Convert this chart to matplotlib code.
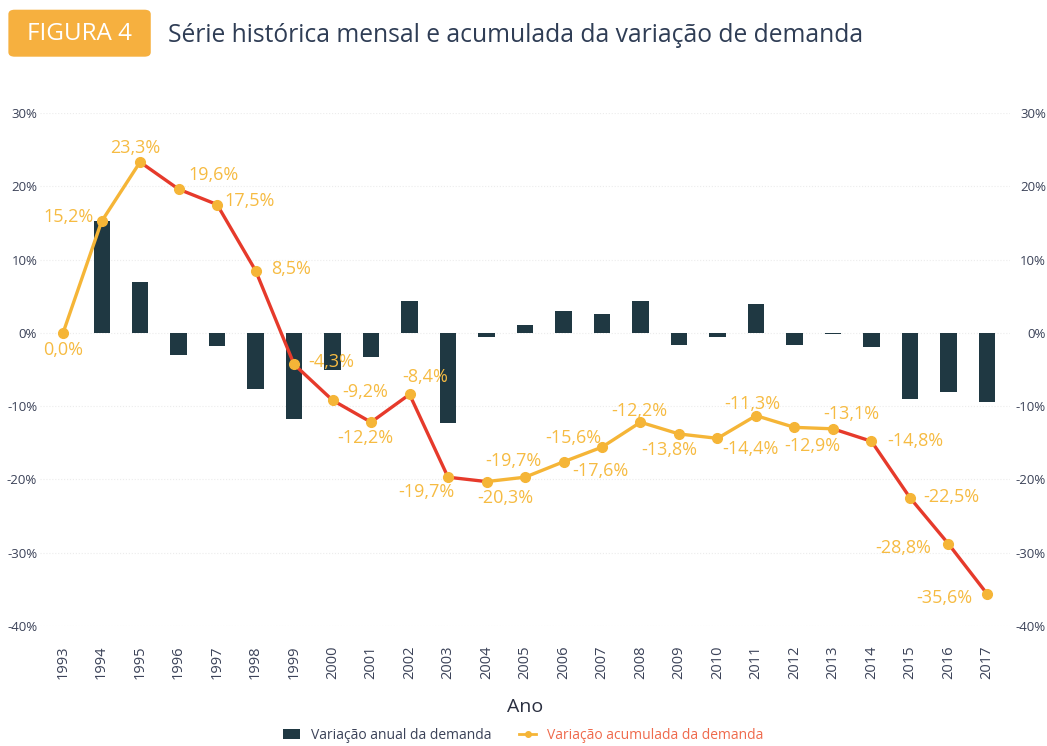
import matplotlib.pyplot as plt
from matplotlib.patches import FancyBboxPatch, Patch
from matplotlib.lines import Line2D
from matplotlib.transforms import ScaledTranslation

plt.rcParams['font.family'] = ['Open Sans', 'DejaVu Sans']

# data
years = list(range(1993, 2018))
annual = [0.0, 15.2, 7.0, -3.0, -1.8, -7.7, -11.8, -5.1, -3.3, 4.3, -12.3, -0.6,
          1.0, 3.0, 2.5, 4.4, -1.7, -0.6, 3.9, -1.6, -0.2, -1.9, -9.0, -8.1, -9.5]
cumulative = [0.0, 15.2, 23.3, 19.6, 17.5, 8.5, -4.3, -9.2, -12.2, -8.4, -19.7, -20.3,
              -19.7, -17.6, -15.6, -12.2, -13.8, -14.4, -11.3, -12.9, -13.1, -14.8,
              -22.5, -28.8, -35.6]
# label texts as printed on the chart
point_labels = ['0,0%', '15,2%', '23,3%', '19,6%', '17,5%', '8,5%', '-4,3%', '-9,2%',
                '-12,2%', '-8,4%', '-19,7%', '-20,3%', '-19,7%', '-15,6%', '-17,6%',
                '-12,2%', '-13,8%', '-14,4%', '-11,3%', '-12,9%', '-13,1%', '-14,8%',
                '-22,5%', '-28,8%', '-35,6%']
# segments drawn in red (start year of the segment)
red_segments = [1995, 1996, 1997, 1998, 1999, 2000, 2001, 2002, 2003,
                2013, 2014, 2015, 2016]
# label offsets in pixels (dx, dy) relative to each point
label_offsets = [(0, -17), (-33, 4), (-5, 14), (35, 14), (33, 4), (36, 2), (37, 2),
                 (33, 8), (-6, -16), (16, 17), (-22, -15), (19, -16), (-12, 16),
                 (10, 24), (-2, -24), (-1, 11), (-10, -16), (33, -11), (-4, 12),
                 (18, -19), (18, 15), (44, 0), (41, 1), (-45, -4), (-43, -4)]

BAR = '#1f3842'
YEL = '#f5b537'
RED = '#e63a2b'
TXT = '#3b4258'

fig = plt.figure(figsize=(10.47, 7.46), dpi=100)
ax = fig.add_axes([0.0382, 0.1609, 0.9265, 0.6877])

ax.bar(years[1:], annual[1:], width=0.42, color=BAR, zorder=2)

for i in range(len(years) - 1):
    c = RED if years[i] in red_segments else YEL
    ax.plot(years[i:i + 2], cumulative[i:i + 2], color=c, lw=2.4, zorder=3,
            solid_capstyle='round')
ax.plot(years, cumulative, 'o', color=YEL, ms=7, zorder=4)

for x, y, t, (dx, dy) in zip(years, cumulative, point_labels, label_offsets):
    ax.annotate(t, (x, y), xytext=(dx * 0.72, dy * 0.72), textcoords='offset points',
                ha='center', va='center', color='#f6bb42', fontsize=13, zorder=5)

ax.set_xlim(1992.4, 2017.6)
ax.set_ylim(-40, 30)
ax.set_yticks(range(-40, 31, 10))
ax.set_yticklabels([f'{v}%' for v in range(-40, 31, 10)])
ax.set_xticks(years)
ax.set_xticklabels([str(y) for y in years], rotation=90)
ax.tick_params(axis='both', length=0, colors=TXT)
ax.tick_params(axis='x', pad=14, labelsize=10.5)
ax.tick_params(axis='y', labelsize=9.5, labelright=True, pad=2)
for s in ax.spines.values():
    s.set_visible(False)
ax.yaxis.grid(True, color='#ececec', ls=':', lw=0.8, zorder=0)
ax.set_axisbelow(True)
ax.set_xlabel('Ano', fontsize=14, color='#2a2f40', labelpad=14)

# right-hand labels are right-aligned near the figure edge
for t in ax.yaxis.get_major_ticks():
    t.label2.set_ha('right')
    t.label2.set_transform(t.label2.get_transform()
                           + ScaledTranslation(33 / 100, 0, fig.dpi_scale_trans))

# title block
box = FancyBboxPatch((0.008, 0.924), 0.136, 0.063, boxstyle='round,pad=0,rounding_size=0.006',
                     transform=fig.transFigure, facecolor='#f6b03f', edgecolor='none')
fig.patches.append(box)
fig.text(0.0755, 0.955, 'FIGURA 4', color='white', fontsize=17.5, ha='center', va='center')
fig.text(0.160, 0.953, 'Série histórica mensal e acumulada da variação de demanda',
         color='#2f3d55', fontsize=17.7, ha='left', va='center')

handles = [Patch(facecolor=BAR), Line2D([], [], color=YEL, marker='o', ms=4, lw=2)]
leg = fig.legend(handles, ['Variação anual da demanda', 'Variação acumulada da demanda'],
                 loc='center', bbox_to_anchor=(0.5, 0.014), ncol=2, frameon=False,
                 fontsize=10, handlelength=1.2, columnspacing=2, borderpad=0.1)
leg.get_texts()[0].set_color('#3b4258')
leg.get_texts()[1].set_color('#ef6a4c')

fig.savefig('out.png', dpi=100)
